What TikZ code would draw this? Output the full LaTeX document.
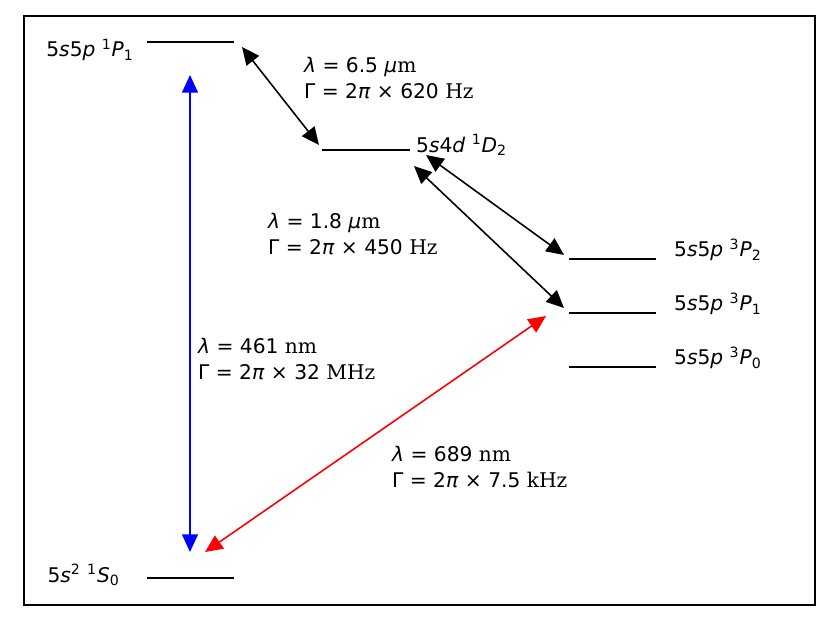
\documentclass[tikz,border=0pt]{standalone}
\usepackage{fontspec}
\setmainfont{DejaVu Sans}
\newfontfamily\unitfont{DejaVu Serif}
\usetikzlibrary{arrows.meta}
\newcommand{\un}[1]{{\unitfont #1}}
\tikzset{
  level/.style={line width=1.6pt},
  trans/.style={line width=0.9pt, {Triangle[length=10pt,width=9pt]}-{Triangle[length=10pt,width=9pt]}},
  lab/.style={anchor=west, align=left, font=\fontsize{11.5}{15}\selectfont},
  statelab/.style={font=\fontsize{11.5}{13}\selectfont}
}
\begin{document}
\begin{tikzpicture}[x=0.02cm, y=-0.02cm]
    \useasboundingbox (0,0) rectangle (831,629);
    \draw[line width=0.8pt] (24,16) rectangle (815,605);
    % levels
    \draw[level] (147,42) coordinate (p1a) -- (234,42) coordinate (p1b);
    \draw[level] (322,150) coordinate (d2a) -- (410,150) coordinate (d2b);
    \draw[level] (569,259) coordinate (tp2a) -- (656,259) coordinate (tp2b);
    \draw[level] (569,313) coordinate (tp1a) -- (656,313) coordinate (tp1b);
    \draw[level] (569,367) coordinate (tp0a) -- (656,367) coordinate (tp0b);
    \draw[level] (147,578) coordinate (s0a) -- (234,578) coordinate (s0b);
    % state labels
    \node[statelab, anchor=east] (lp1) at (140,50) {5\textit{s}5\textit{p} \textsuperscript{1}\textit{P}\textsubscript{1}};
    \node[statelab, anchor=west] (ld2) at (410,145) {5\textit{s}4\textit{d} \textsuperscript{1}\textit{D}\textsubscript{2}};
    \node[statelab, anchor=west] (ltp2) at (668,250) {5\textit{s}5\textit{p} \textsuperscript{3}\textit{P}\textsubscript{2}};
    \node[statelab, anchor=west] (ltp1) at (668,304) {5\textit{s}5\textit{p} \textsuperscript{3}\textit{P}\textsubscript{1}};
    \node[statelab, anchor=west] (ltp0) at (668,358) {5\textit{s}5\textit{p} \textsuperscript{3}\textit{P}\textsubscript{0}};
    \node[statelab, anchor=east] (ls0) at (126,575) {5\textit{s}\textsuperscript{2} \textsuperscript{1}\textit{S}\textsubscript{0}};
    % transitions
    \coordinate (b1) at (190,75);  \coordinate (b2) at (190,552);
    \coordinate (k1) at (242,47);  \coordinate (k2) at (319,145);
    \coordinate (k3) at (426,155); \coordinate (k4) at (564,255);
    \coordinate (k5) at (414,166); \coordinate (k6) at (564,308);
    \coordinate (r1) at (546,316); \coordinate (r2) at (205,552);
    \draw[trans, blue, fill=blue] (b1) -- (b2);
    \draw[trans, fill=black] (k1) -- (k2);
    \draw[trans, fill=black] (k3) -- (k4);
    \draw[trans, fill=black] (k5) -- (k6);
    \draw[trans, red, fill=red] (r1) -- (r2);
    % transition labels
    \node[lab] (t1) at (298,78) {\textit{λ} = 6.5 \textit{μ}\un{m}\\Γ = 2\textit{π} × 620 \un{Hz}};
    \node[lab] (t2) at (262,234) {\textit{λ} = 1.8 \textit{μ}\un{m}\\Γ = 2\textit{π} × 450 \un{Hz}};
    \node[lab] (t3) at (192,359) {\textit{λ} = 461 \un{nm}\\Γ = 2\textit{π} × 32 \un{MHz}};
    \node[lab] (t4) at (386,467) {\textit{λ} = 689 \un{nm}\\Γ = 2\textit{π} × 7.5 \un{kHz}};
\end{tikzpicture}
\end{document}
